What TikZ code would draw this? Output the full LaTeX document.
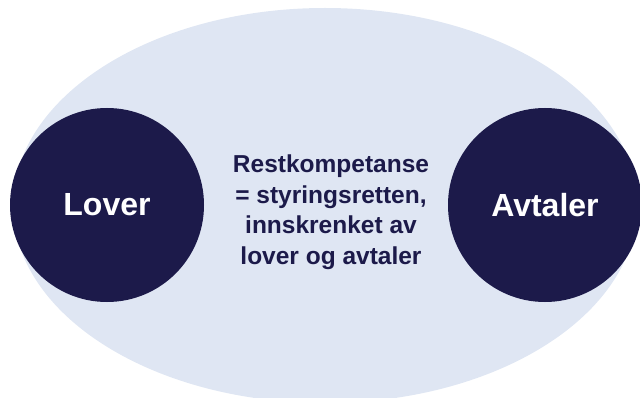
\documentclass[tikz,border=0pt]{standalone}
\usepackage{fontspec}
\setmainfont{Liberation Sans}
\definecolor{navy}{HTML}{1C1A4A}
\definecolor{lightbg}{HTML}{DFE6F3}
\tikzset{
  bigdisc/.style={circle, fill=navy, minimum size=194pt, inner sep=0pt,
    text=white, font=\fontsize{32}{38}\selectfont\bfseries},
  midtext/.style={align=center, text=navy, inner sep=0pt,
    font=\fontsize{24.5}{30.5}\selectfont\bfseries}
}
\begin{document}
\begin{tikzpicture}[x=1pt,y=-1pt]
\useasboundingbox (0,0) rectangle (640,398);
\clip (0,0) rectangle (640,398);
\fill[lightbg] (325,205.5) ellipse [x radius=312, y radius=197.5];
\node[bigdisc] (lover) at (107,205) {Lover};
\node[bigdisc] (avtaler) at (545,205) {Avtaler};
\node[midtext] (rest) at (331,212) {Restkompetanse\\= styringsretten,\\innskrenket av\\lover og avtaler};
\end{tikzpicture}
\end{document}
